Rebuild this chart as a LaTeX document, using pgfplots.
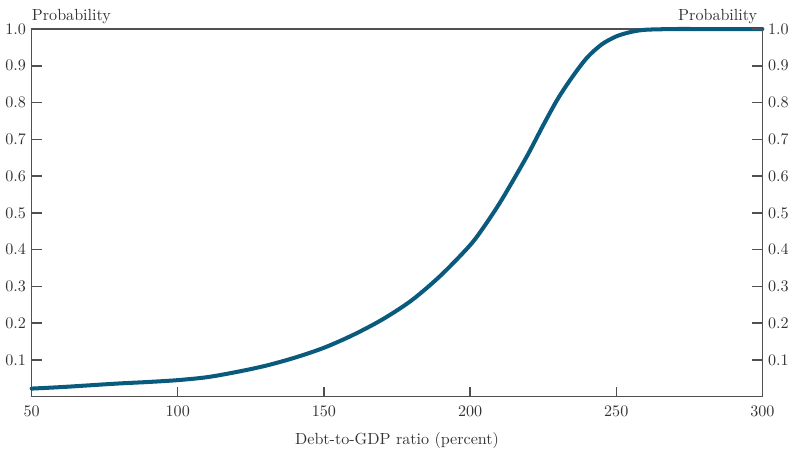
\documentclass[border=0pt]{standalone}
\usepackage{fontspec}
\usepackage{pgfplots}
\pgfplotsset{compat=1.18}
\definecolor{curve}{RGB}{10,90,125}
\definecolor{axgray}{RGB}{80,80,80}
\begin{document}
\begin{tikzpicture}
\pgfplotsset{
  base/.style={
    scale only axis, width=454pt, height=228.4pt,
    xmin=50, xmax=300, ymin=0, ymax=1,
    axis line style={axgray, line width=0.9pt},
    tick style={axgray, line width=0.9pt},
    major tick length=6.25pt,
    tick align=inside,
    ytick={0.1,0.2,0.3,0.4,0.5,0.6,0.7,0.8,0.9,1.0},
    yticklabel style={/pgf/number format/fixed, /pgf/number format/fixed zerofill, /pgf/number format/precision=1},
    /pgf/number format/assume math mode=true,
    ticklabel style={font=\fontsize{10}{12}\selectfont, text=black!80},
  }
}
\begin{axis}[base,
  xtick={50,100,150,200,250,300},
  xtick pos=bottom, ytick pos=left,
  yticklabel pos=left,
  xticklabel style={yshift=-2.3pt},
  xlabel={Debt-to-GDP ratio (percent)},
  xlabel style={font=\fontsize{10}{12}\selectfont, text=black!80, yshift=-2.8pt},
  clip=false,
]
\addplot[curve, line width=2.5pt, smooth, line cap=round] table {
x y
50 0.022
60 0.026
70 0.031
80 0.036
90 0.040
100 0.045
110 0.053
120 0.067
130 0.084
140 0.106
150 0.133
160 0.168
170 0.210
180 0.262
190 0.330
200 0.412
205 0.465
210 0.525
215 0.592
220 0.662
225 0.738
230 0.810
235 0.870
240 0.922
245 0.958
250 0.980
255 0.992
260 0.998
270 1.000
280 1.000
300 1.000
};
\node[anchor=base west, inner sep=0pt, font=\fontsize{10}{12}\selectfont, text=black!80, yshift=5.6pt] at (rel axis cs:0,1) {Probability};
\node[anchor=base east, inner sep=0pt, font=\fontsize{10}{12}\selectfont, text=black!80, yshift=5.6pt, xshift=-3pt] at (rel axis cs:1,1) {Probability};
\end{axis}
\begin{axis}[base,
  axis x line=none,
  axis y line*=right,
  ytick pos=right, yticklabel pos=right,
  axis line style={axgray, line width=0.9pt, -},
]
\end{axis}
\path ([yshift=5.5pt]current bounding box.north);
\path ([yshift=-3pt]current bounding box.south);
\end{tikzpicture}
\end{document}
